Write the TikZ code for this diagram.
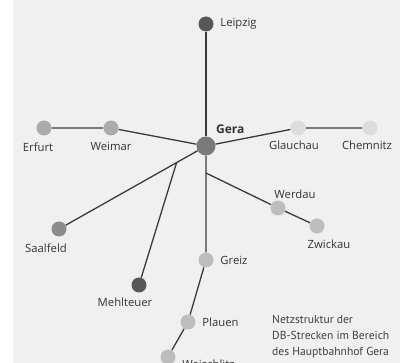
\documentclass[tikz,border=0pt]{standalone}
\usepackage{fontspec}
\setmainfont{Open Sans}
\newfontfamily\captionfont{PT Sans}
\usetikzlibrary{positioning, calc, backgrounds}

\definecolor{lineGray}{HTML}{3A3A3A}
\definecolor{stDark}{HTML}{575757}
\definecolor{stGera}{HTML}{7A7A7A}
\definecolor{stMid}{HTML}{8C8C8C}
\definecolor{stLight}{HTML}{ABABAB}
\definecolor{stPale}{HTML}{BDBDBD}
\definecolor{stFaint}{HTML}{DCDCDC}
\definecolor{paper}{HTML}{F0F0F0}

\begin{document}
\begin{tikzpicture}[
    x=1pt, y=-1pt,
    station/.style={circle, inner sep=0pt, minimum size=15pt, fill=stPale},
    hub/.style={circle, inner sep=0pt, minimum size=19pt, fill=stGera},
    track/.style={draw=lineGray, line width=1.3pt},
    every label/.style={font=\fontsize{11.3}{13}\selectfont, text=black!80, inner sep=2pt},
    label distance=1.5pt
]
    \useasboundingbox (0,0) rectangle (400,363);

    % Nodes
    \node[hub, label={[font=\fontsize{12}{14}\selectfont\bfseries, anchor=south west, xshift=0pt, yshift=2pt]north east:Gera}] (gera) at (206,146) {};
    \node[station, fill=stDark, label={[xshift=3pt]right:Leipzig}] (leipzig) at (206,24) {};

    \node[station, fill=stLight, label={[xshift=-6pt, yshift=-3pt]below:Erfurt}] (erfurt) at (44,128) {};
    \node[station, fill=stLight, label={[yshift=-3pt]below:Weimar}] (weimar) at (111,128) {};
    \node[station, fill=stFaint, label={[xshift=-4pt, yshift=-2pt]below:Glauchau}] (glauchau) at (298,128) {};
    \node[station, fill=stFaint, label={[xshift=-3pt, yshift=-2pt]below:Chemnitz}] (chemnitz) at (370,128) {};

    \node[station, fill=stMid, label={[xshift=-13pt, yshift=-3pt]below:Saalfeld}] (saalfeld) at (59,229) {};
    \node[station, fill=stDark, label={[xshift=-14pt, yshift=-2pt]below:Mehlteuer}] (mehlteuer) at (139,285) {};

    \node[station, label={[xshift=3pt]right:Greiz}] (greiz) at (206,260) {};
    \node[station, label={[xshift=3pt]right:Plauen}] (plauen) at (188,322) {};
    \node[station, label={[xshift=3pt, yshift=-7pt]right:Weischlitz}] (weischlitz) at (168,357) {};

    \node[station, label={[xshift=17pt, yshift=-2pt]above:Werdau}] (werdau) at (278,208) {};
    \node[station, label={[xshift=12pt, yshift=-3pt]below:Zwickau}] (zwickau) at (317,226) {};

    % Branch points
    \coordinate (forkWest) at ($(gera)!0.2!(saalfeld)$);
    \coordinate (forkSouth) at ($(gera)!0.237!(greiz)$);

    % Tracks
    \begin{scope}[on background layer]
        \fill[white] (0,0) rectangle (13,363);
        \fill[paper] (13,0) rectangle (400,363);
        \draw[track] (gera) -- (leipzig);
        \draw[track] (gera) -- (weimar) -- (erfurt);
        \draw[track] (gera) -- (glauchau) -- (chemnitz);
        \draw[track] (gera) -- (saalfeld);
        \draw[track] (forkWest) -- (mehlteuer);
        \draw[track] (gera) -- (greiz) -- (plauen) -- (weischlitz);
        \draw[track] (forkSouth) -- (werdau) -- (zwickau);
    \end{scope}

    % Caption
    \node[anchor=north west, align=left, inner sep=0pt, text=black!75,
          font=\captionfont\fontsize{11.6}{16}\selectfont] (caption) at (272,315)
        {Netzstruktur der\\DB-Strecken im Bereich\\des Hauptbahnhof Gera};
\end{tikzpicture}
\end{document}
